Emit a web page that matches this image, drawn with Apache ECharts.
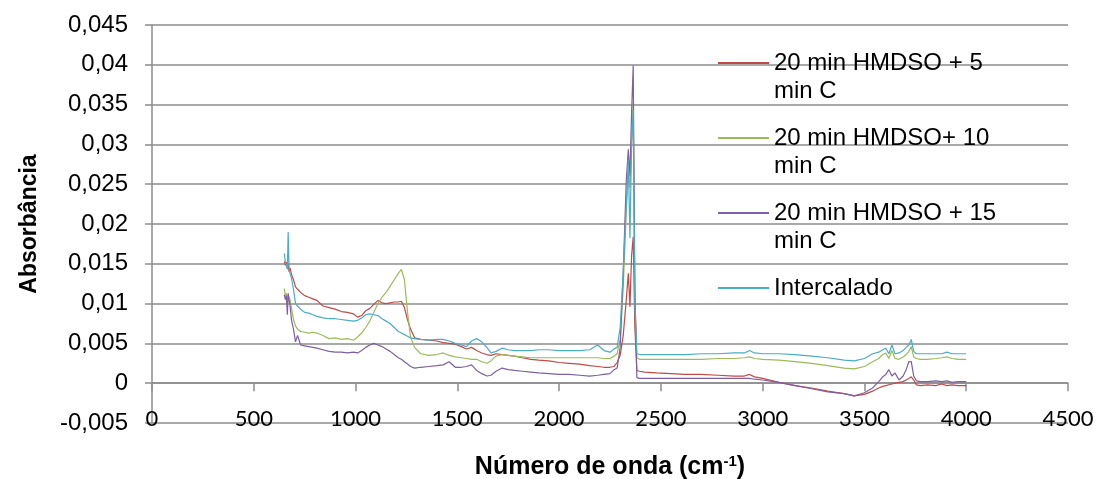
<!DOCTYPE html>
<html>
<head>
<meta charset="utf-8">
<script src="https://cdn.jsdelivr.net/npm/echarts@6/dist/echarts.min.js"></script>
<style>
  html, body { margin: 0; padding: 0; background: #fff; }
  #chart { width: 1099px; height: 479px; }
</style>
</head>
<body>
<div id="chart"></div>
<script>
// Wavenumber grid (cm-1) shared by all four spectra
const wavenumbers = [
  650, 655, 660, 665, 669, 673, 678, 685, 695, 705,
  715, 730, 750, 770, 790, 810, 840, 870, 900, 930,
  960, 990, 1010, 1030, 1050, 1070, 1090, 1110, 1130, 1150,
  1170, 1190, 1210, 1225, 1240, 1255, 1270, 1290, 1320, 1360,
  1400, 1430, 1460, 1490, 1520, 1545, 1570, 1595, 1620, 1645,
  1665, 1690, 1720, 1750, 1780, 1820, 1860, 1900, 1950, 2000,
  2050, 2100, 2150, 2190, 2220, 2250, 2270, 2285, 2300, 2315,
  2330, 2340, 2348, 2356, 2364, 2372, 2382, 2395, 2420, 2480,
  2550, 2620, 2700, 2780, 2860, 2910, 2935, 2960, 3000, 3080,
  3160, 3240, 3320, 3400, 3450, 3500, 3540, 3570, 3590, 3605,
  3620, 3635, 3650, 3670, 3690, 3705, 3718, 3730, 3742, 3755,
  3775, 3810, 3850, 3880, 3905, 3930, 3960, 4000
];

const seriesNames = [
  '20 min HMDSO + 5 min C',
  '20 min HMDSO+ 10 min C',
  '20 min HMDSO + 15 min C',
  'Intercalado'
];

const absHmdso5 = [
  .0153, .0148, .0152, .0145, .0150, .0140, .0145, .0137, .0130, .0121,
  .0118, .0114, .0110, .0108, .0106, .0104, .0097, .0095, .0093, .0090,
  .0089, .0087, .0083, .0085, .0091, .0094, .0099, .0104, .0101, .0100,
  .0101, .0102, .0102, .0103, .0095, .0080, .0068, .0057, .0055, .0054,
  .0053, .0051, .0050, .0049, .0046, .0043, .0045, .0041, .0038, .0036,
  .0035, .0037, .0036, .0035, .0034, .0032, .0030, .0029, .0028, .0026,
  .0025, .0024, .0022, .0021, .0020, .0020, .0021, .0026, .0035, .0060,
  .0105, .0138, .0096, .0160, .0184, .0070, .0016, .0015, .0014, .0013,
  .0012, .0011, .0011, .0010, .0009, .0009, .0011, .0008, .0006, .0001,
  -.0003, -.0006, -.0010, -.0013, -.0016, -.0014, -.0010, -.0006, -.0004, -.0003,
  -.0002, -.0001, .0000, .0001, .0002, .0004, .0006, .0008, .0004, -.0002,
  -.0003, -.0002, -.0003, -.0001, -.0003, -.0002, -.0003, -.0003
];

const absHmdso10 = [
  .0119, .0110, .0113, .0105, .0111, .0109, .0105, .0095, .0080, .0072,
  .0068, .0065, .0064, .0063, .0064, .0063, .0060, .0056, .0057, .0055,
  .0056, .0054, .0058, .0063, .0070, .0078, .0089, .0100, .0108, .0114,
  .0122, .0130, .0138, .0143, .0130, .0090, .0058, .0045, .0037, .0035,
  .0036, .0038, .0035, .0033, .0032, .0031, .0030, .0030, .0027, .0025,
  .0028, .0034, .0036, .0035, .0034, .0033, .0032, .0032, .0032, .0032,
  .0032, .0032, .0032, .0032, .0031, .0031, .0034, .0037, .0055, .0120,
  .0215, .0266, .0245, .0300, .0352, .0110, .0032, .0030, .0030, .0030,
  .0030, .0030, .0030, .0031, .0031, .0032, .0033, .0031, .0030, .0029,
  .0027, .0025, .0022, .0019, .0018, .0021, .0027, .0031, .0036, .0038,
  .0031, .0041, .0031, .0030, .0033, .0036, .0040, .0046, .0033, .0031,
  .0030, .0030, .0031, .0032, .0033, .0031, .0030, .0030
];

const absHmdso15 = [
  .0111, .0105, .0110, .0086, .0113, .0105, .0098, .0080, .0068, .0052,
  .0060, .0048, .0047, .0046, .0045, .0044, .0042, .0040, .0039, .0039,
  .0038, .0039, .0038, .0041, .0045, .0048, .0050, .0048, .0046, .0043,
  .0040, .0036, .0032, .0030, .0027, .0024, .0021, .0019, .0020, .0021,
  .0022, .0023, .0027, .0020, .0020, .0021, .0023, .0016, .0012, .0009,
  .0010, .0015, .0019, .0017, .0016, .0015, .0014, .0013, .0012, .0011,
  .0011, .0010, .0009, .0010, .0011, .0012, .0017, .0019, .0045, .0140,
  .0255, .0294, .0260, .0340, .0399, .0120, .0007, .0006, .0006, .0006,
  .0006, .0006, .0006, .0006, .0006, .0006, .0006, .0005, .0004, .0001,
  -.0003, -.0007, -.0011, -.0013, -.0016, -.0012, -.0006, .0002, .0008, .0011,
  .0017, .0009, .0013, .0004, .0009, .0017, .0027, .0027, .0009, .0003,
  .0002, .0002, .0003, .0002, .0003, .0001, .0002, .0002
];

const absIntercalado = [
  .0163, .0152, .0148, .0143, .0190, .0145, .0138, .0132, .0118, .0100,
  .0097, .0093, .0089, .0088, .0086, .0084, .0082, .0081, .0081, .0080,
  .0079, .0078, .0079, .0082, .0086, .0087, .0086, .0085, .0081, .0078,
  .0075, .0070, .0065, .0063, .0061, .0059, .0057, .0056, .0055, .0054,
  .0055, .0055, .0053, .0050, .0048, .0046, .0053, .0056, .0052, .0045,
  .0038, .0040, .0044, .0042, .0041, .0041, .0041, .0042, .0042, .0041,
  .0041, .0041, .0042, .0048, .0041, .0039, .0043, .0045, .0070, .0140,
  .0225, .0280, .0182, .0300, .0343, .0100, .0037, .0036, .0036, .0036,
  .0036, .0036, .0037, .0037, .0038, .0038, .0041, .0038, .0037, .0037,
  .0036, .0034, .0032, .0029, .0028, .0031, .0037, .0039, .0042, .0044,
  .0037, .0048, .0037, .0038, .0041, .0045, .0048, .0055, .0040, .0037,
  .0037, .0037, .0037, .0037, .0039, .0037, .0037, .0037
];

const seriesValues = [absHmdso5, absHmdso10, absHmdso15, absIntercalado];
const seriesColors = ['#BE4B48', '#9BBB59', '#7D60A0', '#4BACC6'];

const gridGray = '#8C8C8C';
const sansFont = '"Liberation Sans", Arial, sans-serif';

// plot area geometry
const gridTop = 25, gridBottom = 56;
const plotHeight = 479 - gridTop - gridBottom;
const yMin = -0.005, yMax = 0.045, yStep = 0.005;
// the wavenumber axis crosses the absorbance axis at 0
const zeroOffset = -plotHeight * (0 - yMin) / (yMax - yMin);

const chart = echarts.init(document.getElementById('chart'), null, { renderer: 'canvas' });

chart.setOption({
  animation: false,
  backgroundColor: '#ffffff',
  grid: { left: 152, right: 31, top: gridTop, bottom: gridBottom, containLabel: false, outerBoundsMode: 'none' },
  legend: {
    orient: 'vertical',
    left: 717,
    top: 21,
    padding: 0,
    itemGap: -9,
    itemWidth: 51,
    itemHeight: 14,
    data: seriesNames,
    itemStyle: { opacity: 0, color: 'transparent', borderWidth: 0 },
    textStyle: { fontFamily: sansFont, fontSize: 24, lineHeight: 28, color: '#000' },
    formatter: function (name) {
      const i = name.lastIndexOf(' min C');
      if (i > 0) return '\n' + name.slice(0, i) + '\nmin C';
      return '\n' + name + '\n ';
    }
  },
  xAxis: {
    type: 'value',
    position: 'bottom',
    offset: zeroOffset,
    min: 0,
    max: 4500,
    interval: 500,
    name: 'Número de onda (cm{sup|-1})',
    nameLocation: 'middle',
    nameGap: 71,
    nameTextStyle: {
      fontFamily: sansFont, fontSize: 25, fontWeight: 'bold', color: '#000',
      rich: {
        sup: { fontFamily: sansFont, fontSize: 15, fontWeight: 'bold', color: '#000', verticalAlign: 'top', padding: [0, 0, 11, 0] }
      }
    },
    axisLine: { show: true, onZero: false, lineStyle: { color: gridGray, width: 1.5 } },
    axisTick: { show: true, length: 8, lineStyle: { color: gridGray, width: 1.5 } },
    axisLabel: {
      margin: 25,
      fontFamily: 'Lato, "Open Sans", sans-serif',
      fontSize: 22,
      color: '#000',
      formatter: function (v) { return String(v); }
    },
    splitLine: { show: false }
  },
  yAxis: {
    type: 'value',
    min: yMin,
    max: yMax,
    interval: yStep,
    name: 'Absorbância',
    nameLocation: 'middle',
    nameGap: 111,
    nameRotate: 90,
    nameTextStyle: { fontFamily: sansFont, fontSize: 23, fontWeight: 'bold', color: '#000' },
    axisLine: { show: true, onZero: false, lineStyle: { color: gridGray, width: 1.5 } },
    axisTick: { show: true, length: 7, lineStyle: { color: gridGray, width: 1.5 } },
    axisLabel: {
      margin: 24,
      fontFamily: sansFont,
      fontSize: 24,
      color: '#000',
      formatter: function (v) {
        const r = Math.round(v * 1000) / 1000;
        return r === 0 ? '0' : String(r).replace('.', ',');
      }
    },
    splitLine: { show: true, lineStyle: { color: gridGray, width: 1.5 } }
  },
  series: seriesNames.map(function (name, s) {
    return {
      name: name,
      type: 'line',
      symbol: 'none',
      showSymbol: false,
      color: seriesColors[s],
      lineStyle: { color: seriesColors[s], width: 1.2 },
      data: wavenumbers.map(function (w, i) { return [w, seriesValues[s][i]]; })
    };
  })
});
</script>
</body>
</html>
